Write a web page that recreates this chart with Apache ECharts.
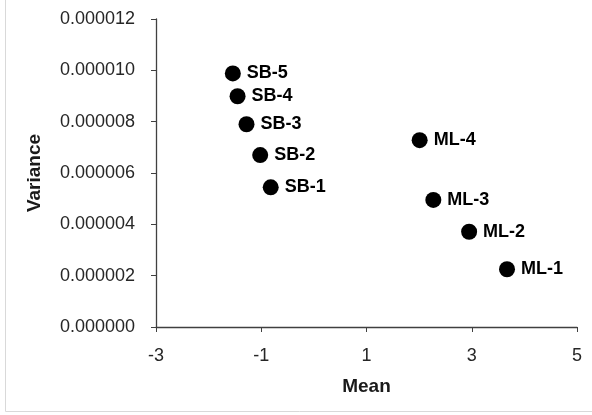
<!DOCTYPE html>
<html><head><meta charset="utf-8">
<script src="https://cdn.jsdelivr.net/npm/echarts@6/dist/echarts.min.js"></script>
<style>html,body{margin:0;padding:0;background:#fff}#c{width:592px;height:415px}</style>
</head><body><div id="c"></div>
<script>
var labels = ['SB-5','SB-4','SB-3','SB-2','SB-1','ML-4','ML-3','ML-2','ML-1'];
var means = [-1.54,-1.45,-1.28,-1.02,-0.82,2.01,2.27,2.95,3.67];
var variances = [9.88e-6,8.99e-6,7.90e-6,6.70e-6,5.44e-6,7.28e-6,4.95e-6,3.71e-6,2.25e-6];
var xTicks = [-3,-1,1,3,5];
var yTicks = [0,2e-6,4e-6,6e-6,8e-6,10e-6,12e-6];

var data = labels.map(function(l,i){return {name:l,value:[means[i],variances[i]]};});
var font = 'Liberation Sans';
var chart = echarts.init(document.getElementById('c'));
chart.setOption({
  animation:false,
  textStyle:{fontFamily:font},
  graphic:[{type:'rect',shape:{x:5.5,y:-2,width:600,height:413.5},style:{fill:null,stroke:'#d9d9d9',lineWidth:1},silent:true}],
  grid:{left:156,right:15,top:19,bottom:88,containLabel:false},
  xAxis:{type:'value',min:xTicks[0],max:xTicks[xTicks.length-1],interval:2,
    name:'Mean',nameLocation:'middle',nameGap:50,
    nameTextStyle:{fontFamily:font,fontWeight:'bold',fontSize:19,color:'#1a1a1a'},
    axisLine:{onZero:false,lineStyle:{color:'#404040',width:1.3}},
    axisTick:{show:true,inside:false,length:5,lineStyle:{color:'#404040'}},
    axisLabel:{fontSize:18,color:'#262626',margin:20},
    splitLine:{show:false}},
  yAxis:{type:'value',min:yTicks[0],max:yTicks[yTicks.length-1],interval:2e-6,
    name:'Variance',nameLocation:'middle',nameGap:112,
    nameTextStyle:{fontFamily:font,fontWeight:'bold',fontSize:19,color:'#1a1a1a'},
    axisLine:{show:true,onZero:false,lineStyle:{color:'#404040',width:1.3}},
    axisTick:{show:true,inside:false,length:5,lineStyle:{color:'#404040'}},
    axisLabel:{fontSize:18,color:'#262626',margin:21,formatter:function(v){return v.toFixed(6);}},
    splitLine:{show:false}},
  series:[{type:'scatter',data:data,symbol:'circle',symbolSize:16,
    itemStyle:{color:'#000',opacity:1},
    emphasis:{disabled:true},
    label:{show:true,position:'right',distance:6,formatter:'{b}',fontFamily:font,fontWeight:'bold',fontSize:18,color:'#000'}}]
});
</script></body></html>
